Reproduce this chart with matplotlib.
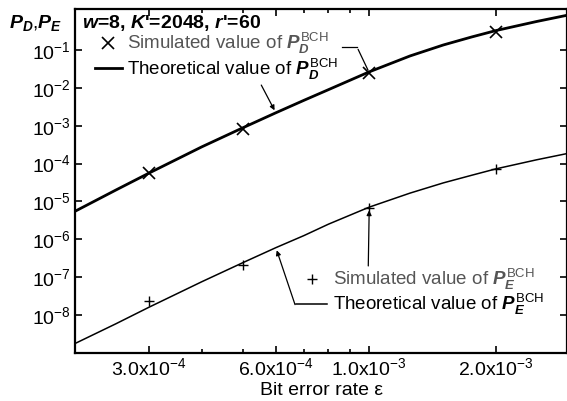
import matplotlib
matplotlib.use('Agg')
import matplotlib.pyplot as plt
from matplotlib.ticker import FixedLocator, NullFormatter

plt.rcParams['font.family'] = ['Liberation Sans', 'DejaVu Sans']
plt.rcParams['mathtext.fontset'] = 'custom'
plt.rcParams['mathtext.rm'] = 'Liberation Sans'
plt.rcParams['mathtext.it'] = 'Liberation Sans:italic:bold'
plt.rcParams['mathtext.bf'] = 'Liberation Sans:bold'

# bit error rate grid for the theoretical curves
ber = [2e-4, 2.5e-4, 3e-4, 4e-4, 5e-4, 6e-4, 7e-4, 8e-4,
       1e-3, 1.25e-3, 1.5e-3, 1.75e-3, 2e-3, 2.5e-3, 3e-3]
# theoretical P_D and P_E (log10 values)
log_pd_theory = [-5.26, -4.70, -4.25, -3.56, -3.06, -2.66, -2.33, -2.05,
                 -1.58, -1.16, -0.87, -0.66, -0.49, -0.25, -0.07]
log_pe_theory = [-8.75, -8.23, -7.79, -7.12, -6.62, -6.22, -5.90, -5.60,
                 -5.15, -4.78, -4.51, -4.31, -4.14, -3.90, -3.72]

# simulated points
ber_sim = [3e-4, 5e-4, 1e-3, 2e-3]
pd_sim = [5.7e-5, 8.3e-4, 2.5e-2, 3.0e-1]
pe_sim = [2.3e-8, 2.1e-7, 6.9e-6, 7.4e-5]

pd_theory = [10 ** v for v in log_pd_theory]
pe_theory = [10 ** v for v in log_pe_theory]

xticks = [3e-4, 6e-4, 1e-3, 2e-3]
xticklabels = ['3.0x10$^{-4}$', '6.0x10$^{-4}$', '1.0x10$^{-3}$', '2.0x10$^{-3}$']
yticks = [1e-1, 1e-2, 1e-3, 1e-4, 1e-5, 1e-6, 1e-7, 1e-8]
yticklabels = ['10$^{-%d}$' % i for i in range(1, 9)]

fs = 14
lfs = 13.5
fig = plt.figure(figsize=(5.67, 4.01), dpi=100)
ax = fig.add_axes([75 / 567, 1 - 353 / 401, 492 / 567, 344 / 401])

sim_d, = ax.plot(ber_sim, pd_sim, 'x', color='k', ms=9, mew=1.2)
th_d, = ax.plot(ber, pd_theory, '-', color='k', lw=2)
sim_e, = ax.plot(ber_sim, pe_sim, '+', color='k', ms=7, mew=1.0)
th_e, = ax.plot(ber, pe_theory, '-', color='k', lw=1.1)

ax.set_xscale('log')
ax.set_yscale('log')
ax.set_xlim(2e-4, 2.95e-3)
ax.set_ylim(1e-9, 1.2)

ax.xaxis.set_major_locator(FixedLocator(xticks))
ax.set_xticklabels(xticklabels, fontsize=fs)
ax.xaxis.set_minor_locator(FixedLocator([4e-4, 5e-4, 7e-4, 8e-4, 9e-4]))
ax.xaxis.set_minor_formatter(NullFormatter())
ax.yaxis.set_major_locator(FixedLocator(yticks))
ax.set_yticklabels(yticklabels, fontsize=fs)
ax.yaxis.set_minor_locator(FixedLocator([]))
ax.tick_params(which='both', direction='in', top=True, right=True, width=1.2)
ax.tick_params(which='major', length=5, pad=3)
ax.tick_params(which='minor', length=3)
for s in ax.spines.values():
    s.set_linewidth(1.6)

ax.set_xlabel('Bit error rate \u03b5', fontsize=fs, labelpad=2)
ax.set_ylabel('$P_D$,$P_E$', fontsize=fs, rotation=0)
ax.yaxis.set_label_coords(-0.08, 0.93)

ax.text(0.014, 0.958, "$w$=8, $K$'=2048, $r$'=60", transform=ax.transAxes,
        fontsize=fs, fontweight='bold', va='center', ha='left')

leg1 = ax.legend([sim_d, th_d],
                 ['Simulated value of $P_D^{\\rm BCH}$',
                  'Theoretical value of $P_D^{\\rm BCH}$'],
                 loc='upper left', bbox_to_anchor=(0.04, 0.935),
                 frameon=False, fontsize=lfs,
                 handlelength=1.45, handletextpad=0.27, labelspacing=0,
                 borderaxespad=0, borderpad=0)
leg1.get_texts()[0].set_color('#555555')
ax.add_artist(leg1)

leg2 = ax.legend([sim_e, th_e],
                 ['Simulated value of $P_E^{\\rm BCH}$',
                  'Theoretical value of $P_E^{\\rm BCH}$'],
                 loc='upper left', bbox_to_anchor=(0.45, 0.25),
                 frameon=False, fontsize=lfs,
                 handlelength=1.65, handletextpad=0.3, labelspacing=0,
                 borderaxespad=0, borderpad=0)
leg2.get_texts()[0].set_color('#555555')

arrow = dict(arrowstyle='-|>', color='k', lw=0.9, mutation_scale=7)
line = dict(arrowstyle='-', color='k', lw=0.9)

# pointer lines from the legend entries to the curves
ax.plot([0.543, 0.573], [0.890, 0.890], color='k', lw=0.9, transform=ax.transAxes)
ax.annotate('', xy=(ber_sim[2], pd_sim[2]), xycoords='data',
            xytext=(0.573, 0.890), textcoords='axes fraction', arrowprops=line)
ax.annotate('', xy=(ber[5], pd_theory[5]), xycoords='data',
            xytext=(0.376, 0.786), textcoords='axes fraction', arrowprops=arrow)
ax.annotate('', xy=(ber_sim[2], pe_sim[2]), xycoords='data',
            xytext=(0.596, 0.245), textcoords='axes fraction', arrowprops=arrow)
ax.annotate('', xy=(ber[5], pe_theory[5]), xycoords='data',
            xytext=(0.449, 0.133), textcoords='axes fraction', arrowprops=arrow)

fig.savefig('out.png', dpi=100)
